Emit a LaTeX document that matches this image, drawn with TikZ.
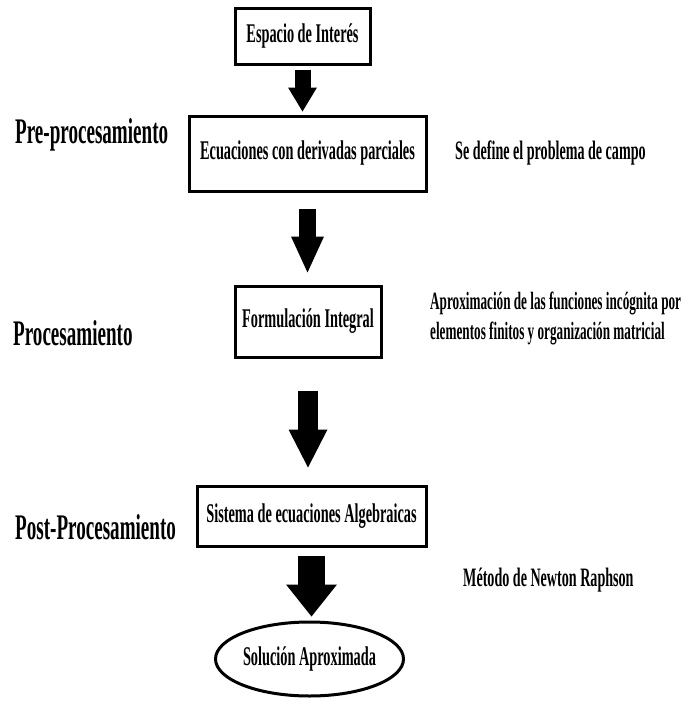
\documentclass[tikz,border=0pt]{standalone}
\usepackage{fontspec}
\setmainfont{Liberation Serif}[FakeStretch=0.53]
\usetikzlibrary{arrows.meta,shapes.geometric}

\begin{document}
\begin{tikzpicture}[x=1pt, y=-1pt,
    caja/.style={draw, line width=3pt, inner sep=0pt, font=\bfseries\fontsize{27}{29}\selectfont},
    etapa/.style={anchor=west, inner sep=0pt, font=\bfseries\fontsize{36}{38}\selectfont},
    nota/.style={anchor=west, inner sep=0pt, align=left, font=\bfseries\fontsize{26.6}{30}\selectfont},
    flecha/.style n args={3}{line width=#1, -{Triangle[width=#2, length=#3, line width=0pt]}}]
    \useasboundingbox (0,0) rectangle (696,704);

    % pasos del metodo
    \node[caja, minimum width=135pt, minimum height=56pt] (espacio) at (302.5,36) {Espacio de Interés};
    \node[caja, minimum width=237pt, minimum height=75pt] (ecuaciones) at (307.5,153.5) {Ecuaciones con derivadas parciales};
    \node[caja, minimum width=146pt, minimum height=71pt] (formulacion) at (308,321.5) {Formulación Integral};
    \node[caja, minimum width=229pt, minimum height=60pt] (sistema) at (311.5,516) {Sistema de ecuaciones Algebraicas};
    \node[caja, ellipse, minimum width=157pt, minimum height=74pt] (solucion) at (309.5,659) {Solución Aproximada};

    % flechas gruesas entre pasos
    \draw[flecha={16pt}{29pt}{24pt}, shorten <=4pt, shorten >=3pt] (espacio.south) -- (espacio.south |- ecuaciones.north);
    \draw[flecha={17pt}{33pt}{36pt}, shorten <=16pt, shorten >=12pt] (ecuaciones.south) -- (ecuaciones.south |- formulacion.north);
    \draw[flecha={20pt}{39pt}{38pt}, shorten <=32pt, shorten >=17pt] (formulacion.south) -- (formulacion.south |- sistema.north);
    \draw[flecha={27pt}{51pt}{32pt}, shorten <=8pt, shorten >=4pt] (sistema.south) -- (sistema.south |- solucion.north);

    % etapas a la izquierda
    \node[etapa] (pre) at (15,135) {Pre-procesamiento};
    \node[etapa] (proc) at (13,333) {Procesamiento};
    \node[etapa] (post) at (15,527) {Post-Procesamiento};

    % notas a la derecha
    \node[nota] (campo) at (455,153) {Se define el problema de campo};
    \node[nota, font=\bfseries\fontsize{24.9}{30}\selectfont] (aprox) at (430,318) {Aproximación de las funciones incógnita por\\elementos finitos y organización matricial};
    \node[nota] (newton) at (463,580) {Método de Newton Raphson};

\end{tikzpicture}
\end{document}
